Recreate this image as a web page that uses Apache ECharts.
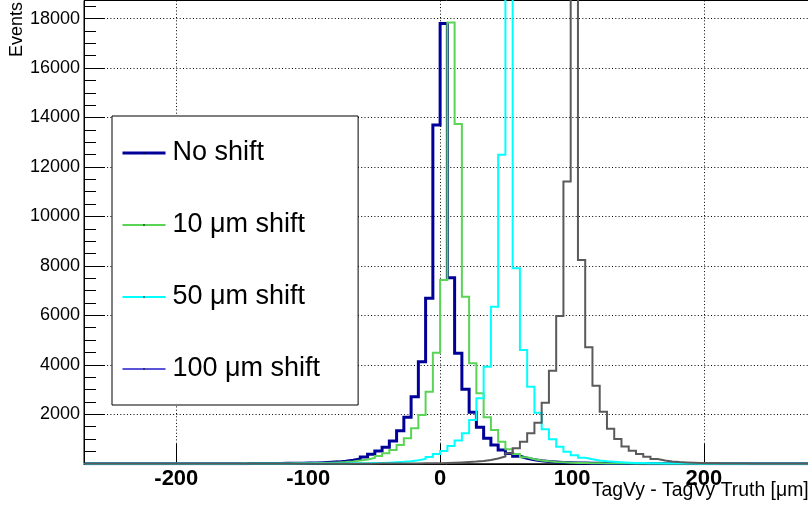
<!DOCTYPE html>
<html>
<head>
<meta charset="utf-8">
<script src="https://cdn.jsdelivr.net/npm/echarts@6/dist/echarts.min.js"></script>
<style>
  html, body { margin: 0; padding: 0; background: #ffffff; }
  #chart { width: 808px; height: 514px; }
</style>
</head>
<body>
<div id="chart"></div>
<script>
// Histogram binning: 5.5 um bins, the first bin starts at -269.5 um
const binWidth = 5.5;
const firstBinEdge = -269.5;

// Bin contents (events per bin), ten bins per row
const noShift = [
  0, 0, 0, 0, 0, 0, 0, 0, 0, 0,
  0, 0, 1, 1, 1, 1, 2, 2, 3, 3,
  4, 5, 6, 7, 9, 11, 13, 16, 19, 23,
  28, 35, 45, 58, 76, 102, 140, 192, 273, 382,
  516, 665, 920, 1330, 1879, 2712, 4127, 6690, 13700, 17800,
  7525, 4467, 3010, 2080, 1474, 1030, 760, 556, 410, 300,
  220, 165, 125, 95, 72, 55, 43, 34, 27, 21,
  17, 14, 11, 9, 7, 6, 5, 4, 3, 3,
  2, 2, 2, 1, 1, 1, 1, 0, 0, 0,
  0, 0, 0, 0, 0, 0, 0, 0, 0, 0,
  0, 0, 0
];
const shift10 = [
  0, 0, 0, 0, 0, 0, 0, 0, 0, 0,
  0, 0, 1, 1, 1, 2, 2, 3, 3, 4,
  5, 6, 7, 8, 9, 11, 12, 14, 16, 19,
  22, 27, 34, 43, 55, 72, 96, 128, 172, 232,
  313, 422, 556, 758, 1030, 1434, 1972, 2914, 4490, 7432,
  17840, 13740, 6757, 4062, 2849, 1879, 1365, 892, 584, 394,
  260, 185, 135, 100, 75, 57, 44, 34, 27, 21,
  17, 13, 10, 8, 7, 5, 4, 4, 3, 3,
  2, 2, 1, 1, 1, 1, 0, 0, 0, 0,
  0, 0, 0, 0, 0, 0, 0, 0, 0, 0,
  0, 0, 0
];
const shift50 = [
  0, 0, 0, 0, 0, 0, 0, 0, 0, 0,
  0, 0, 0, 0, 0, 0, 1, 1, 1, 1,
  1, 1, 2, 2, 3, 3, 4, 4, 5, 6,
  7, 8, 9, 10, 12, 14, 16, 19, 23, 28,
  35, 45, 58, 76, 102, 140, 192, 273, 390, 520,
  720, 940, 1230, 1770, 2645, 3925, 6352, 12490, 19800, 7905,
  4600, 3117, 2065, 1393, 988, 690, 487, 340, 245, 180,
  135, 100, 76, 58, 45, 35, 27, 21, 17, 14,
  11, 9, 7, 6, 5, 4, 3, 3, 2, 2,
  1, 1, 1, 1, 0, 0, 0, 0, 0, 0,
  0, 0, 0
];
const shift100 = [
  0, 0, 0, 0, 0, 0, 0, 0, 0, 0,
  0, 0, 0, 0, 0, 0, 0, 0, 0, 0,
  0, 0, 0, 0, 0, 0, 0, 0, 0, 0,
  0, 1, 1, 1, 1, 2, 2, 3, 4, 5,
  6, 7, 9, 10, 12, 14, 17, 20, 25, 32,
  41, 52, 68, 88, 115, 155, 210, 290, 422, 624,
  892, 1230, 1660, 2470, 3765, 5976, 11410, 20500, 8240, 4710,
  3150, 2105, 1420, 1000, 700, 528, 394, 285, 192, 130,
  95, 70, 52, 40, 30, 23, 18, 14, 11, 9,
  7, 5, 4, 3, 3, 2, 2, 1, 1, 1,
  1, 0, 0
];

const seriesNames = ['No shift', '10 \u03bcm shift', '50 \u03bcm shift', '100 \u03bcm shift'];
const seriesCounts = [noShift, shift10, shift50, shift100];
const lineColors = ['#000099', '#59d454', '#00ffff', '#5a5a5a'];
const legendColors = ['#000099', '#59d454', '#00ffff', '#5954d8'];
const lineWidths = [3, 2, 2, 2];

// Long ticks on the x axis sit on every other labelled value
const xLongTicks = [-200, 0, 200];

const xTitle = 'TagVy - TagVy Truth [\u03bcm]';
const yTitle = 'Events';
const font = '"Liberation Sans", Arial, Helvetica, sans-serif';

// Left bin edges as x, the last edge closes the outline of the last bin
function histogramOutline(counts) {
  const pts = counts.map((c, i) => [firstBinEdge + i * binWidth, c]);
  pts.push([firstBinEdge + counts.length * binWidth, counts[counts.length - 1]]);
  return pts;
}

const dotted = { color: '#000000', width: 1, type: [1, 2.3] };

const chart = echarts.init(document.getElementById('chart'), null, { renderer: 'canvas' });

chart.setOption({
  animation: false,
  backgroundColor: '#ffffff',
  grid: {
    left: 84, top: 0.5, right: -27.8, bottom: 50.25,
    show: true, borderColor: '#000000', borderWidth: 1,
    outerBoundsMode: 'none', containLabel: false
  },
  xAxis: {
    type: 'value', min: -270, max: 300,
    axisLine: { show: true, onZero: false, lineStyle: { color: '#000000', width: 1 } },
    axisTick: {
      show: true, inside: true, length: 20, customValues: xLongTicks,
      lineStyle: { color: '#000000', width: 1 }
    },
    minorTick: { show: false },
    axisLabel: {
      showMinLabel: false, showMaxLabel: false, margin: 4,
      fontFamily: font, fontSize: 22, fontWeight: 'bold', color: '#000000',
      formatter: v => String(v)
    },
    splitLine: { show: true, lineStyle: dotted }
  },
  yAxis: {
    type: 'value', min: 0, max: 18730, interval: 2000,
    axisLine: { show: true, onZero: false, lineStyle: { color: '#000000', width: 1 } },
    axisTick: { show: true, inside: true, length: 21, lineStyle: { color: '#000000', width: 1 } },
    minorTick: { show: true, splitNumber: 4, length: 12, lineStyle: { color: '#000000', width: 1 } },
    axisLabel: {
      showMinLabel: false, showMaxLabel: false, margin: 4,
      fontFamily: font, fontSize: 18, color: '#000000',
      formatter: v => String(v)
    },
    splitLine: { show: true, lineStyle: dotted }
  },
  legend: {
    orient: 'vertical', left: 112, top: 116,
    backgroundColor: '#ffffff', borderColor: '#000000', borderWidth: 1, borderRadius: 0,
    padding: [22, 38, 21, 9],
    itemWidth: 43, itemHeight: 2, itemGap: 42,
    textStyle: { fontFamily: font, fontSize: 27, color: '#000000', lineHeight: 30, padding: [0, 0, 0, 2] },
    data: seriesNames.map((name, i) => ({
      name,
      lineStyle: { color: legendColors[i], width: lineWidths[i] },
      itemStyle: { color: '#000000', borderWidth: 0 }
    }))
  },
  series: seriesNames.map((name, i) => ({
    name,
    type: 'line',
    step: 'end',
    symbol: 'none',
    clip: true,
    data: histogramOutline(seriesCounts[i]),
    lineStyle: { color: lineColors[i], width: lineWidths[i], cap: 'butt', join: 'miter' },
    itemStyle: { color: lineColors[i] },
    emphasis: { disabled: true }
  })),
  graphic: [
    {
      type: 'text', x: 17.5, y: 57, rotation: Math.PI / 2,
      style: { text: yTitle, fontFamily: font, fontSize: 18, fill: '#000000', align: 'left', verticalAlign: 'middle' }
    },
    {
      type: 'text', x: 591.7, y: 491,
      style: { text: xTitle, fontFamily: font, fontSize: 19.4, fill: '#000000', align: 'left', verticalAlign: 'middle' }
    }
  ]
});
</script>
</body>
</html>
